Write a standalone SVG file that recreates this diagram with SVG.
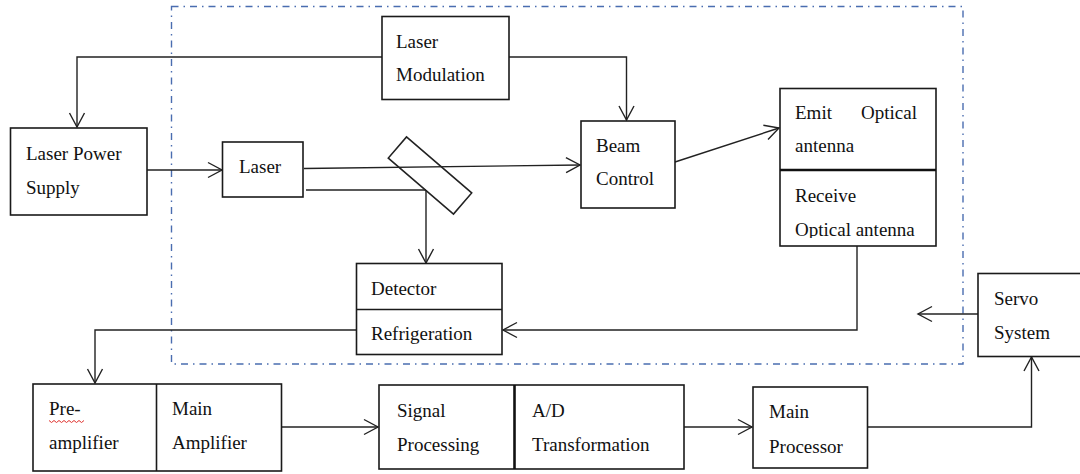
<svg xmlns="http://www.w3.org/2000/svg" width="1080" height="474" viewBox="0 0 1080 474">
  <defs>
    <style>
      .box { fill: #ffffff; stroke: #1a1a1a; stroke-width: 1.6; }
      .div { stroke: #1a1a1a; stroke-width: 1.6; fill: none; }
      .thick { stroke: #111; stroke-width: 2.6; fill: none; }
      .conn { fill: none; stroke: #222; stroke-width: 1.4; }
      .arr { marker-end: url(#arrow); }
      .t { font-family: "Liberation Serif", "Times New Roman", serif; font-size: 19px; fill: #111; }
      .frame { fill: none; stroke: #4a6db0; stroke-width: 1.4; stroke-dasharray: 7 5 1.5 5; }
    </style>
    <marker id="arrow" viewBox="-16 -9 18 18" refX="0" refY="0" markerWidth="18" markerHeight="18" markerUnits="userSpaceOnUse" orient="auto">
      <path d="M-14,-7.5 L0,0 L-14,7.5" fill="none" stroke="#222" stroke-width="1.4"/>
    </marker>
    <clipPath id="antClip">
      <rect x="780" y="170" width="157" height="68"/>
    </clipPath>
  </defs>

  <rect class="frame" x="171.5" y="6.5" width="791.5" height="357.5"/>

  <g id="connectors">
    <polyline class="conn arr" points="382,57 77,57 77,127"/>
    <polyline class="conn arr" points="509,57 626.5,57 626.5,120"/>
    <line class="conn arr" x1="147" y1="170" x2="222" y2="170"/>
    <line class="conn arr" x1="304" y1="168.5" x2="580" y2="165"/>
    <polyline class="conn" points="306,190 426,190"/>
    <line class="conn arr" x1="426" y1="190" x2="426" y2="263"/>
    <line class="conn arr" x1="675" y1="162" x2="779" y2="128"/>
    <polyline class="conn arr" points="857,246 857,330 503,330"/>
    <polyline class="conn arr" points="357,330 95,330 95,383"/>
    <line class="conn arr" x1="978" y1="314" x2="918" y2="314"/>
    <line class="conn arr" x1="282" y1="427" x2="378" y2="427"/>
    <line class="conn arr" x1="684" y1="427" x2="752" y2="427"/>
    <polyline class="conn arr" points="868,427 1031.5,427 1031.5,357"/>
  </g>

  <g id="laser-modulation">
    <rect class="box" x="382" y="16.5" width="127" height="83"/>
    <text class="t" x="396" y="48">Laser</text>
    <text class="t" x="396" y="81">Modulation</text>
  </g>

  <g id="laser-power-supply">
    <rect class="box" x="10.5" y="128" width="136.5" height="87"/>
    <text class="t" x="26" y="160">Laser Power</text>
    <text class="t" x="26" y="194">Supply</text>
  </g>

  <g id="laser">
    <rect class="box" x="222.5" y="142" width="80.5" height="55"/>
    <text class="t" x="239" y="173">Laser</text>
  </g>

  <g id="mirror">
    <polygon points="406.5,136.9 471.7,192.9 453.5,214.1 388.3,158.1" fill="none" stroke="#222" stroke-width="1.6"/>
  </g>

  <g id="beam-control">
    <rect class="box" x="581" y="121" width="94" height="87"/>
    <text class="t" x="596" y="152">Beam</text>
    <text class="t" x="596" y="185">Control</text>
  </g>

  <g id="optical-antenna">
    <rect class="box" x="780" y="88.5" width="156" height="157.5"/>
    <line class="thick" x1="780" y1="170" x2="936" y2="170"/>
    <text class="t" x="795" y="119">Emit</text>
    <text class="t" x="917" y="119" text-anchor="end">Optical</text>
    <text class="t" x="795" y="152">antenna</text>
    <text class="t" x="795" y="202">Receive</text>
    <text class="t" x="795" y="236" clip-path="url(#antClip)">Optical antenna</text>
  </g>

  <g id="detector">
    <rect class="box" x="356.5" y="263.5" width="145.5" height="91"/>
    <line class="div" x1="356.5" y1="309.5" x2="502" y2="309.5"/>
    <text class="t" x="371" y="295">Detector</text>
    <text class="t" x="371" y="340">Refrigeration</text>
  </g>

  <g id="servo-system">
    <rect class="box" x="978" y="273.5" width="110" height="83"/>
    <text class="t" x="994" y="305">Servo</text>
    <text class="t" x="994" y="339">System</text>
  </g>

  <g id="amplifiers">
    <rect class="box" x="33" y="384" width="248.5" height="87"/>
    <line class="div" x1="156.5" y1="384" x2="156.5" y2="471"/>
    <text class="t" x="49" y="415">Pre-</text>
    <path d="M49,420.5 l2.5,2 l2.5,-2 l2.5,2 l2.5,-2 l2.5,2 l2.5,-2 l2.5,2 l2.5,-2 l2.5,2 l2.5,-2 l2.5,2 l2.5,-2 l2.5,2 l2.5,-2" fill="none" stroke="#e0302c" stroke-width="1"/>
    <text class="t" x="49" y="449">amplifier</text>
    <text class="t" x="172" y="415">Main</text>
    <text class="t" x="172" y="449">Amplifier</text>
  </g>

  <g id="signal-ad">
    <rect class="box" x="379" y="385" width="305" height="84"/>
    <line class="thick" x1="514.5" y1="385" x2="514.5" y2="469"/>
    <text class="t" x="397" y="417">Signal</text>
    <text class="t" x="397" y="451">Processing</text>
    <text class="t" x="532" y="417">A/D</text>
    <text class="t" x="532" y="451">Transformation</text>
  </g>

  <g id="main-processor">
    <rect class="box" x="753" y="387" width="114.5" height="81"/>
    <text class="t" x="769" y="418">Main</text>
    <text class="t" x="769" y="452.5">Processor</text>
  </g>
</svg>
